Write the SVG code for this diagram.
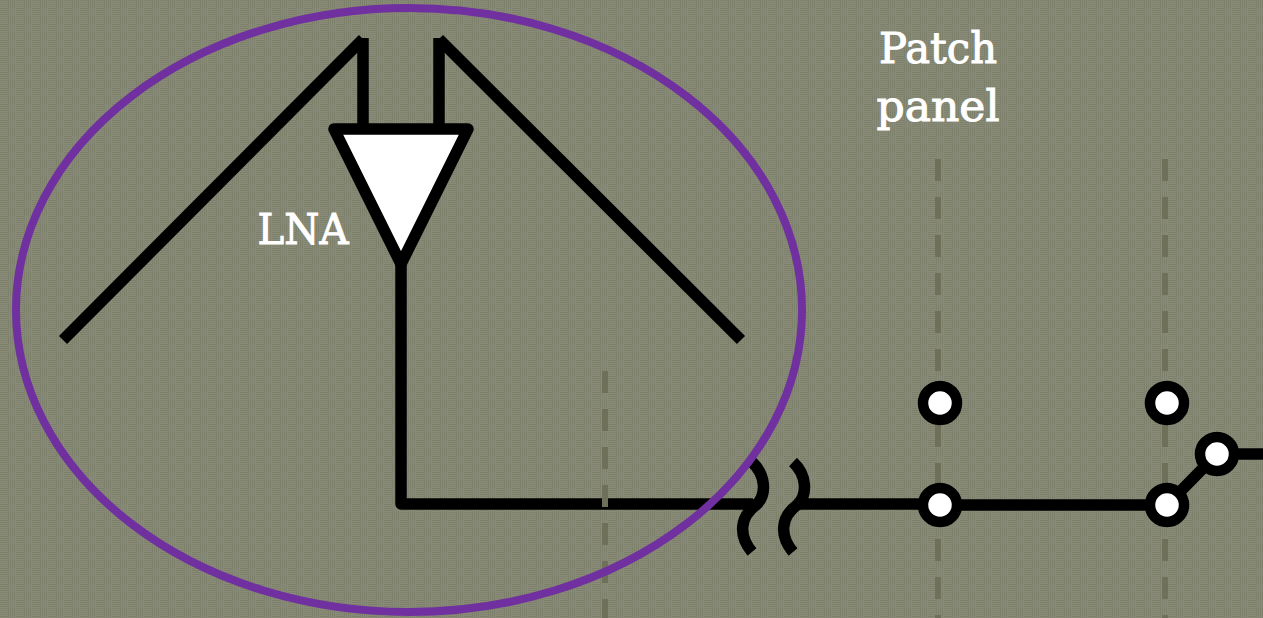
<svg xmlns="http://www.w3.org/2000/svg" width="1263" height="618" viewBox="0 0 1263 618">
<style>
.w{fill:none;stroke:#000;stroke-width:11.5}
.d{fill:none;stroke:#6e705a;stroke-width:6;stroke-dasharray:22 16}
.n{fill:#fff;stroke:#000;stroke-width:10.5}
.t{font-family:"DejaVu Serif",serif;font-size:42px;fill:#fff;stroke:#fff;stroke-width:1;text-anchor:middle}
</style>
<defs>
<pattern id="bg" width="16" height="16" patternUnits="userSpaceOnUse">
<rect width="16" height="16" fill="#8a8c78"/>
<path d="M0 .5H8M0 2.5H8M0 4.5H8M0 6.5H8M8.5 8V16M10.5 8V16M12.5 8V16M14.5 8V16" stroke="#80836f" stroke-width="1"/>
<path d="M8.5 0V8M10.5 0V8M12.5 0V8M14.5 0V8M0 8.5H8M0 10.5H8M0 12.5H8M0 14.5H8" stroke="#7c7f6a" stroke-width="1"/>
</pattern>
</defs>
<rect id="background" width="1263" height="618" fill="url(#bg)"/>
<g id="connectors">
<path class="w" d="M63 340L363 39"/>
<path class="w" d="M439 39L741 340"/>
<path class="w" d="M363 38V130"/>
<path class="w" d="M439 38V130"/>
<path class="w" stroke-linejoin="round" d="M401 262V504H753"/>
<path class="w" d="M797 504H940"/>
<path class="w" d="M940 505H1167"/>
<path class="w" d="M1167 505L1217 454"/>
<path class="w" d="M1217 454H1263"/>
<path class="w" d="M752 462C766 475 767 495 756 505C740 517 738 535 752 552"/>
<path class="w" d="M793 462C807 475 808 495 797 505C781 517 779 535 793 552"/>
</g>
<g id="guides">
<path class="d" d="M605 371V618"/>
<path class="d" d="M938 159V618"/>
<path class="d" d="M1165 159V618"/>
</g>
<g id="lna"><path d="M334 129H468L401 264Z" fill="#fff" stroke="#000" stroke-width="11.5" stroke-linejoin="round"/></g>
<ellipse id="ring" cx="409" cy="310" rx="393" ry="302" fill="none" stroke="#7030a0" stroke-width="8"/>
<g id="node-1"><circle class="n" cx="940" cy="403" r="17"/></g>
<g id="node-2"><circle class="n" cx="1167" cy="403" r="17"/></g>
<g id="node-3"><circle class="n" cx="940" cy="505" r="17"/></g>
<g id="node-4"><circle class="n" cx="1167" cy="505" r="17"/></g>
<g id="node-5"><circle class="n" cx="1217" cy="454" r="17"/></g>
<g id="label-lna"><text class="t" x="303" y="244" textLength="91" lengthAdjust="spacingAndGlyphs">LNA</text></g>
<g id="label-patch"><text class="t" x="938" y="63" textLength="118" lengthAdjust="spacingAndGlyphs">Patch</text><text class="t" x="938" y="121" textLength="123" lengthAdjust="spacingAndGlyphs">panel</text></g>
</svg>
